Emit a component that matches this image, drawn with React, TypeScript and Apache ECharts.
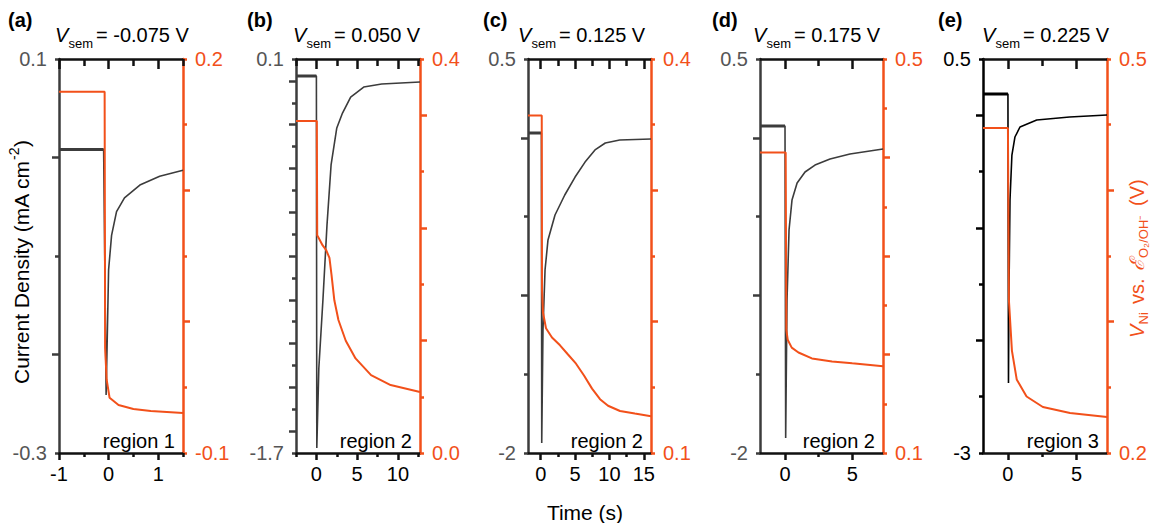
import React, { useEffect, useRef } from "react";
import * as echarts from "echarts";

// ---------------- data ----------------
// panel (a)  V_sem = -0.075 V
const aTimeJ = [-1, -0.1, -0.05, -0.02, 0.0, 0.06, 0.16, 0.32, 0.63, 1.03, 1.5];
const aJ = [0.008, 0.008, -0.241, -0.165, -0.114, -0.079, -0.055, -0.041, -0.028, -0.019, -0.013];
const aTimeV = [-1, -0.08, -0.07, -0.04, 0.02, 0.2, 0.5, 0.85, 1.5];
const aV = [0.175, 0.175, -0.02, -0.044, -0.058, -0.0635, -0.0665, -0.068, -0.0695];

// panel (b)  V_sem = 0.050 V
const bTimeJ = [-2.5, 0.0, 0.05, 0.3, 0.8, 1.3, 1.8, 2.5, 3.2, 4.2, 5.8, 8, 12.7];
const bJ = [0.022, 0.022, -1.677, -1.312, -1.001, -0.658, -0.384, -0.215, -0.147, -0.074, -0.028, -0.014, -0.005];
const bTimeV = [-2.5, 0.05, 0.1, 0.3, 0.75, 1.2, 1.6, 1.85, 2.2, 2.7, 3.6, 4.8, 6.7, 9.1, 12.7];
const bV = [0.337, 0.337, 0.221, 0.218, 0.211, 0.206, 0.198, 0.181, 0.155, 0.135, 0.114, 0.096, 0.079, 0.069, 0.062];

// panel (c)  V_sem = 0.125 V
const cTimeJ = [-1.85, 0.1, 0.15, 0.33, 0.63, 1.06, 2.08, 3.5, 5.0, 6.45, 7.9, 9.4, 11.5, 16.05];
const cJ = [0.03, 0.03, -1.937, -1.22, -0.839, -0.648, -0.49, -0.363, -0.249, -0.154, -0.077, -0.033, -0.014, -0.008];
const cTimeV = [-1.85, 0.15, 0.19, 0.33, 0.77, 1.64, 2.81, 3.97, 5.14, 6.3, 7.47, 8.63, 9.8, 11.54, 13.7, 16.05];
const cV = [0.357, 0.357, 0.224, 0.207, 0.195, 0.188, 0.182, 0.175, 0.168, 0.159, 0.149, 0.141, 0.136, 0.132, 0.13, 0.128];

// panel (d)  V_sem = 0.175 V
const dTimeJ = [-1.86, 0.0, 0.05, 0.15, 0.3, 0.52, 0.9, 1.49, 2.23, 3.35, 4.83, 7.29];
const dJ = [0.075, 0.075, -1.905, -1.029, -0.585, -0.395, -0.287, -0.217, -0.173, -0.135, -0.103, -0.071];
const dTimeV = [-1.86, 0.05, 0.1, 0.2, 0.5, 1.0, 2.0, 3.5, 5.0, 7.29];
const dV = [0.405, 0.405, 0.225, 0.215, 0.207, 0.202, 0.196, 0.193, 0.191, 0.188];

// panel (e)  V_sem = 0.225 V
const eTimeJ = [-1.82, 0.0, 0.04, 0.07, 0.15, 0.29, 0.51, 0.88, 2.1, 4.5, 7.23];
const eJ = [0.189, 0.189, -2.378, -1.641, -0.753, -0.353, -0.193, -0.104, -0.042, -0.015, 0.003];
const eTimeV = [-1.82, 0.0, 0.07, 0.29, 0.64, 1.36, 2.55, 4.53, 7.23];
const eV = [0.4475, 0.4475, 0.3165, 0.278, 0.256, 0.243, 0.235, 0.2305, 0.2274];

const timesJ = [aTimeJ, bTimeJ, cTimeJ, dTimeJ, eTimeJ];
const currents = [aJ, bJ, cJ, dJ, eJ];
const timesV = [aTimeV, bTimeV, cTimeV, dTimeV, eTimeV];
const voltages = [aV, bV, cV, dV, eV];

const panelNames = ["(a)", "(b)", "(c)", "(d)", "(e)"];
const vsemValues = ["-0.075", "0.050", "0.125", "0.175", "0.225"];
const regionLabels = ["region 1", "region 2", "region 2", "region 2", "region 3"];

// x axes
const xMins = [-1, -2.5, -1.85, -1.86, -1.82];
const xMaxs = [1.5, 12.7, 16.05, 7.29, 7.23];
const xMajorTicks = [[-1, 0, 1], [0, 5, 10], [0, 5, 10, 15], [0, 5], [0, 5]];
const xMinorTicks = [[-0.5, 0.5, 1.5], [-2.5, 2.5, 7.5, 12.5], [2.5, 7.5, 12.5], [2.5], [2.5]];
const xLabelValues = [[-1, 0, 1], [0, 5, 10], [0, 5, 10, 15], [0, 5], [0, 5]];

// left (current density) axes
const jMins = [-0.3, -1.7, -2, -2, -3];
const jMaxs = [0.1, 0.1, 0.5, 0.5, 0.5];
const jMajorTicks = [
  [0, -0.2],
  [0, -0.2, -0.4, -0.6, -0.8, -1.0, -1.2, -1.4, -1.6],
  [0, -1],
  [0, -1],
  [0, -1, -2],
];
const jMinorTicks = [
  [0.1, -0.1, -0.3],
  [0.1, -0.1, -0.3, -0.5, -0.7, -0.9, -1.1, -1.3, -1.5, -1.7],
  [0.5, -0.5, -1.5, -2],
  [0.5, -0.5, -1.5, -2],
  [0.5, -0.5, -1.5, -2.5, -3],
];

// right (V_Ni) axes
const vMins = [-0.1, 0.0, 0.1, 0.1, 0.2];
const vMaxs = [0.2, 0.4, 0.4, 0.5, 0.5];
const vMajorTicks = [
  [0, 0.1],
  [0.1143, 0.2286, 0.3429],
  [0.2, 0.3],
  [0.2, 0.3, 0.4],
  [0.3, 0.4],
];
const vMinorTicks = [
  [0.2, 0.15, 0.05, -0.05, -0.1],
  [0, 0.0571, 0.1714, 0.2857, 0.4],
  [0.1, 0.15, 0.25, 0.35, 0.4],
  [0.1, 0.15, 0.25, 0.35, 0.45, 0.5],
  [0.2, 0.25, 0.35, 0.45, 0.5],
];

// ---------------- layout / style ----------------
const FONT = '"Liberation Sans", Arial, Helvetica, sans-serif';
const ORANGE = "#f2501a";
const AXIS_BLACK = "#111111";
const gridLefts = [59, 296, 528, 760, 983];
const gridWidths = [124, 124, 123, 123, 124];
const GRID_TOP = 59;
const GRID_H = 394;
const MAJOR_LEN = 7;
const MINOR_LEN = 4;
const TOP_MAJOR_LEN = 10;
const TOP_MINOR_LEN = 7;
const AXIS_W = 2.5;
const letterX = [8, 247, 483, 712, 938];
const titleX = [55, 293, 518, 753, 982];
const leftColors = ["#3c3c3c", "#3c3c3c", "#3c3c3c", "#3c3c3c", "#000000"];
const leftLabelColors = ["#555555", "#555555", "#555555", "#555555", "#000000"];

const fmtLeft = (v: number) => (Number.isInteger(v) ? String(v) : v.toFixed(1));
const fmtRight = (v: number) => v.toFixed(1);

function buildOption() {
  const grid: any[] = [];
  const xAxis: any[] = [];
  const yAxis: any[] = [];
  const series: any[] = [];
  const graphic: any[] = [];

  for (let i = 0; i < 5; i++) {
    grid.push({ left: gridLefts[i], top: GRID_TOP, width: gridWidths[i], height: GRID_H });
    const xb = { type: "value", gridIndex: i, min: xMins[i], max: xMaxs[i], splitLine: { show: false } };
    const lineX = { show: true, onZero: false, lineStyle: { color: AXIS_BLACK, width: AXIS_W } };
    const tickStyle = (c: string) => ({ color: c, width: AXIS_W });
    xAxis.push({
      ...xb, position: "bottom", axisLine: lineX,
      axisTick: { show: true, customValues: xMajorTicks[i], length: MAJOR_LEN, lineStyle: tickStyle(AXIS_BLACK) },
      axisLabel: { show: true, customValues: xLabelValues[i], margin: 11, fontSize: 20, fontFamily: FONT, color: "#000", formatter: (v: number) => String(v) },
    });
    xAxis.push({
      ...xb, position: "bottom", axisLine: { show: false, onZero: false },
      axisTick: { show: true, customValues: xMinorTicks[i], length: MINOR_LEN, lineStyle: tickStyle(AXIS_BLACK) },
      axisLabel: { show: false },
    });
    xAxis.push({
      ...xb, position: "top", axisLine: lineX,
      axisTick: { show: true, inside: true, customValues: xMajorTicks[i], length: TOP_MAJOR_LEN, lineStyle: tickStyle(AXIS_BLACK) },
      axisLabel: { show: false },
    });
    xAxis.push({
      ...xb, position: "top", axisLine: { show: false, onZero: false },
      axisTick: { show: true, inside: true, customValues: xMinorTicks[i], length: TOP_MINOR_LEN, lineStyle: tickStyle(AXIS_BLACK) },
      axisLabel: { show: false },
    });

    const yl = { type: "value", gridIndex: i, min: jMins[i], max: jMaxs[i], splitLine: { show: false } };
    yAxis.push({
      ...yl, position: "left",
      axisLine: { show: true, onZero: false, lineStyle: { color: leftColors[i], width: AXIS_W } },
      axisTick: { show: true, customValues: jMajorTicks[i], length: MAJOR_LEN, lineStyle: tickStyle(leftColors[i]) },
      axisLabel: { show: true, customValues: [jMins[i], jMaxs[i]], margin: 12, fontSize: 20, fontFamily: FONT, color: leftLabelColors[i], formatter: fmtLeft },
    });
    yAxis.push({
      ...yl, position: "left", axisLine: { show: false, onZero: false },
      axisTick: { show: true, customValues: jMinorTicks[i], length: MINOR_LEN, lineStyle: tickStyle(leftColors[i]) },
      axisLabel: { show: false },
    });
    const yr = { type: "value", gridIndex: i, min: vMins[i], max: vMaxs[i], splitLine: { show: false } };
    yAxis.push({
      ...yr, position: "right",
      axisLine: { show: true, onZero: false, lineStyle: { color: ORANGE, width: AXIS_W } },
      axisTick: { show: true, customValues: vMajorTicks[i], length: MAJOR_LEN, lineStyle: tickStyle(ORANGE) },
      axisLabel: { show: true, customValues: [vMins[i], vMaxs[i]], margin: 12, fontSize: 20, fontFamily: FONT, color: ORANGE, formatter: fmtRight },
    });
    yAxis.push({
      ...yr, position: "right", axisLine: { show: false, onZero: false },
      axisTick: { show: true, customValues: vMinorTicks[i], length: MINOR_LEN, lineStyle: tickStyle(ORANGE) },
      axisLabel: { show: false },
    });

    const jData = timesJ[i].map((t, k) => [t, currents[i][k]]);
    series.push({
      type: "line", xAxisIndex: 4 * i, yAxisIndex: 4 * i, showSymbol: false, symbol: "none",
      lineStyle: { color: leftColors[i], width: 1.6 },
      data: jData,
    });
    // the noisy pre-step plateau appears heavier in the original
    series.push({
      type: "line", xAxisIndex: 4 * i, yAxisIndex: 4 * i, showSymbol: false, symbol: "none",
      lineStyle: { color: leftColors[i], width: 3 },
      data: jData.slice(0, 2),
    });
    series.push({
      type: "line", xAxisIndex: 4 * i, yAxisIndex: 4 * i + 2, showSymbol: false, symbol: "none",
      lineStyle: { color: ORANGE, width: 2 },
      data: timesV[i].map((t, k) => [t, voltages[i][k]]),
    });

    graphic.push({
      type: "text", x: letterX[i], y: 20,
      style: { text: panelNames[i], fontSize: 20, fontWeight: "bold", fontFamily: FONT, fill: "#000", align: "left", verticalAlign: "middle" },
    });
    graphic.push({
      type: "text", x: titleX[i], y: 35,
      style: { text: "V", fontSize: 20, fontStyle: "italic", fontFamily: FONT, fill: "#000", align: "left", verticalAlign: "middle" },
    });
    graphic.push({
      type: "text", x: titleX[i] + 13.5, y: 43,
      style: { text: "sem", fontSize: 13, fontFamily: FONT, fill: "#000", align: "left", verticalAlign: "middle" },
    });
    graphic.push({
      type: "text", x: titleX[i] + 41, y: 35,
      style: { text: "= " + vsemValues[i] + " V", fontSize: 20, fontFamily: FONT, fill: "#000", align: "left", verticalAlign: "middle" },
    });
    graphic.push({
      type: "text", x: gridLefts[i] + gridWidths[i] - 8, y: 441,
      style: { text: regionLabels[i], fontSize: 20, fontFamily: FONT, fill: "#000", align: "right", verticalAlign: "middle" },
    });
  }

  graphic.push({
    type: "text", x: 585, y: 512,
    style: { text: "Time (s)", fontSize: 21, fontFamily: FONT, fill: "#000", align: "center", verticalAlign: "middle" },
  });
  graphic.push({
    type: "group", x: 21, y: 384, rotation: Math.PI / 2,
    children: [
      { type: "text", x: 0, y: 0, style: { text: "Current Density (mA cm", fontSize: 21, fontFamily: FONT, fill: "#000", align: "left", verticalAlign: "middle" } },
      { type: "text", x: 224, y: -7, style: { text: "-2", fontSize: 14, fontFamily: FONT, fill: "#000", align: "left", verticalAlign: "middle" } },
      { type: "text", x: 237, y: 0, style: { text: ")", fontSize: 21, fontFamily: FONT, fill: "#000", align: "left", verticalAlign: "middle" } },
    ],
  });
  graphic.push({
    type: "group", x: 1137, y: 338, rotation: Math.PI / 2,
    children: [
      { type: "text", x: 0, y: 0, style: { text: "V", fontSize: 20, fontStyle: "italic", fontFamily: FONT, fill: ORANGE, align: "left", verticalAlign: "middle" } },
      { type: "text", x: 13.5, y: 6, style: { text: "Ni", fontSize: 13, fontFamily: FONT, fill: ORANGE, align: "left", verticalAlign: "middle" } },
      { type: "text", x: 34, y: 0, style: { text: "vs.", fontSize: 20, fontFamily: FONT, fill: ORANGE, align: "left", verticalAlign: "middle" } },
      { type: "text", x: 67, y: 0, style: { text: "\u2130", fontSize: 20, fontStyle: "italic", fontFamily: FONT, fill: ORANGE, align: "left", verticalAlign: "middle" } },
      { type: "text", x: 80, y: 6, style: { text: "O\u2082/OH\u207B", fontSize: 13, fontFamily: FONT, fill: ORANGE, align: "left", verticalAlign: "middle" } },
      { type: "text", x: 132, y: 0, style: { text: "(V)", fontSize: 20, fontFamily: FONT, fill: ORANGE, align: "left", verticalAlign: "middle" } },
    ],
  });

  return {
    animation: false,
    backgroundColor: "#ffffff",
    grid, xAxis, yAxis, series, graphic,
  };
}

export default function App() {
  const ref = useRef<HTMLDivElement>(null);
  useEffect(() => {
    if (!ref.current) return;
    const chart = echarts.init(ref.current, undefined, { renderer: "svg" });
    chart.setOption(buildOption() as any);
    return () => chart.dispose();
  }, []);
  return (
    <div
      ref={ref}
      style={{ position: "fixed", left: 0, top: 0, width: 1151, height: 523, background: "#fff" }}
    />
  );
}
